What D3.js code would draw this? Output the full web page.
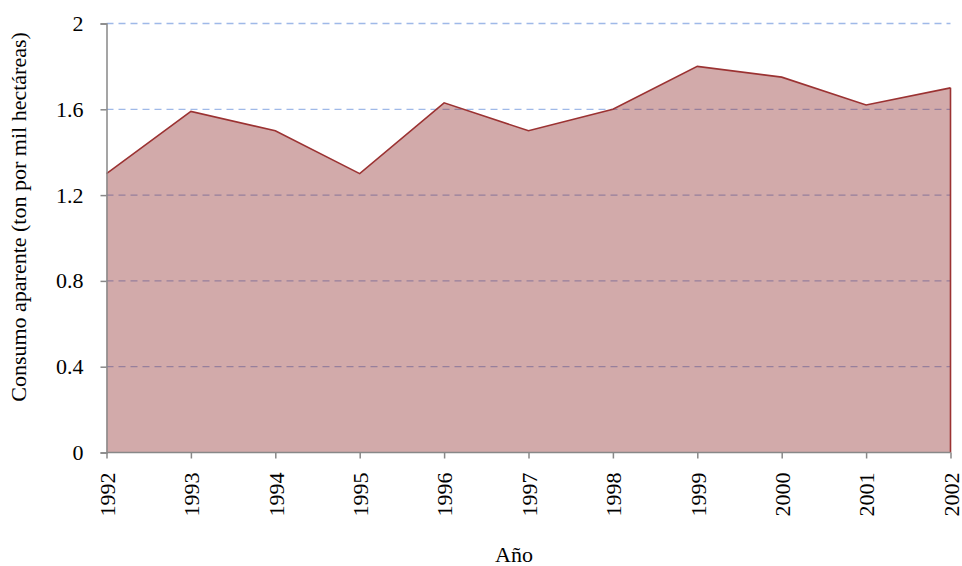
<!DOCTYPE html>
<html><head><meta charset="utf-8">
<script src="https://cdn.jsdelivr.net/npm/d3@7"></script>
<style>body{margin:0;background:#fff}</style>
</head><body>
<svg id="c" width="962" height="566"></svg>
<script>
const years = ["1992","1993","1994","1995","1996","1997","1998","1999","2000","2001","2002"];
const values = [1.30,1.59,1.50,1.30,1.63,1.50,1.60,1.80,1.75,1.62,1.70];
const yTicks = [0,0.4,0.8,1.2,1.6,2];
const yTickLabels = ["0","0.4","0.8","1.2","1.6","2"];
const xTitle = "Año";
const yTitle = "Consumo aparente (ton por mil hectáreas)";

const svg = d3.select("#c");
const m = {l:106.5, r:950.5, t:23.5, b:452.5};
const x = d3.scalePoint().domain(years).range([m.l, m.r]);
const y = d3.scaleLinear().domain([0,2]).range([m.b, m.t]);
const FONT = '"Liberation Serif"';
const fs = "22px";

// gridlines
svg.append("g").selectAll("line").data(yTicks.filter(d=>d>0)).join("line")
  .attr("x1", m.l).attr("x2", m.r).attr("y1", d=>y(d)).attr("y2", d=>y(d))
  .attr("stroke", "#9fb9e8").attr("stroke-width", 1.3).attr("stroke-dasharray", "7,5");

const data = years.map((yr,i)=>({yr, v: values[i]}));
const area = d3.area().x(d=>x(d.yr)).y0(y(0)).y1(d=>y(d.v));
svg.append("path").datum(data).attr("d", area)
  .attr("fill", "#8b2323").attr("fill-opacity", 0.39);
const line = d3.line().x(d=>x(d.yr)).y(d=>y(d.v));
svg.append("path").datum(data).attr("d", line)
  .attr("fill", "none").attr("stroke", "#9b3232").attr("stroke-width", 1.6);
svg.append("line").attr("x1", x(years[years.length-1])).attr("x2", x(years[years.length-1]))
  .attr("y1", y(values[values.length-1])).attr("y2", y(0))
  .attr("stroke", "#9b3232").attr("stroke-width", 1.6);

// axes
const yAxis = d3.axisLeft(y).tickValues(yTicks).tickFormat((d,i)=>yTickLabels[i]).tickSize(6).tickPadding(17);
const gy = svg.append("g").attr("transform", `translate(${m.l},0)`).call(yAxis);
gy.selectAll("path,line").attr("stroke", "#888").attr("stroke-width", 1.5);
gy.selectAll("text").attr("fill", "#000").style("font-family", FONT).style("font-size", fs);

const xAxis = d3.axisBottom(x).tickSize(6).tickPadding(8);
const gx = svg.append("g").attr("transform", `translate(0,${m.b})`).call(xAxis);
gx.select(".domain").attr("d", `M${m.l},0H${m.r}`);
gx.selectAll("path,line").attr("stroke", "#888").attr("stroke-width", 1.5);
gx.selectAll("text").attr("fill", "#000").style("font-family", FONT).style("font-size", fs)
  .attr("transform", "rotate(-90)").attr("text-anchor", "end")
  .attr("x", -20).attr("y", 0).attr("dy", "0.35em");

svg.append("text").attr("x", 514).attr("y", 562).attr("text-anchor", "middle")
  .style("font-family", FONT).style("font-size", fs).text(xTitle);
svg.append("text").attr("transform", "translate(26,217) rotate(-90)").attr("text-anchor", "middle")
  .style("font-family", FONT).style("font-size", fs).text(yTitle);
</script>
</body></html>
